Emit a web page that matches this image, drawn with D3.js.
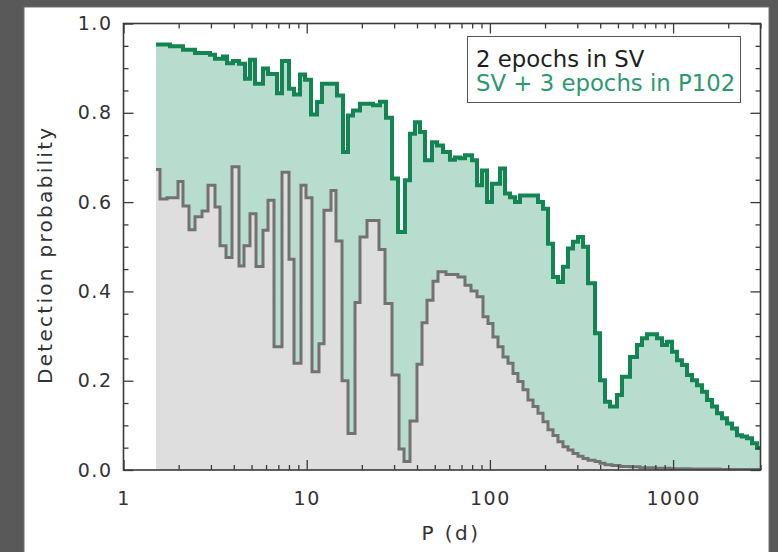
<!DOCTYPE html>
<html>
<head>
<meta charset="utf-8">
<script src="https://cdn.jsdelivr.net/npm/d3@7"></script>
<style>
html,body{margin:0;padding:0;background:#595959;}
svg{display:block;}
</style>
</head>
<body>
<svg id="chart" width="778" height="552"></svg>
<script>
// ---------- DATA ----------
// Orbital period bins (d) where each step starts, and detection probability in that step
const svPeriods = [1.504,1.582,1.728,1.984,2.112,2.278,2.457,2.683,2.893,3.158,3.364,3.627,3.911,4.271,4.548,4.904,5.289,5.775,6.149,6.631,7.332,8.007,8.526,9.308,9.912,10.69,11.67,12.43,13.57,14.45,15.59,16.81,18.35,19.54,21.34,24.81,26.76,29.22,31.91,33.98,36.64,40.00,42.60,45.36,48.92,52.09,57.59,66.95,73.11,78.86,85.04,91.69,97.64,103.9,110.7,117.9,125.6,133.7,142.2,151.6,161.4,171.9,183.0,194.9,207.6,221.0,235.3,250.6,266.9,284.2,302.7,322.3,343.2,374.7,399.1,425.0,464.0,513.1,582.0,659.7,796.5,962.0,1237,1803];
const svValues  = [0.673,0.607,0.610,0.646,0.591,0.538,0.567,0.580,0.638,0.589,0.502,0.476,0.679,0.457,0.502,0.574,0.456,0.537,0.604,0.276,0.667,0.472,0.239,0.638,0.610,0.220,0.283,0.582,0.626,0.513,0.200,0.082,0.375,0.522,0.559,0.494,0.373,0.213,0.047,0.019,0.110,0.237,0.330,0.380,0.423,0.444,0.438,0.432,0.414,0.401,0.388,0.343,0.328,0.298,0.276,0.253,0.239,0.216,0.198,0.180,0.157,0.142,0.127,0.108,0.090,0.077,0.063,0.052,0.045,0.037,0.031,0.026,0.022,0.019,0.015,0.012,0.010,0.008,0.007,0.005,0.004,0.003,0.002,0.001];

const p102Periods = [1.504,1.794,2.112,2.457,2.967,3.158,3.493,3.673,3.960,4.271,4.605,4.904,5.222,5.775,6.149,6.886,7.332,8.007,8.526,9.192,9.789,10.56,11.39,12.12,14.63,15.78,16.81,17.89,19.54,23.01,25.13,27.10,29.22,31.51,34.41,36.64,39.01,41.54,44.23,48.31,51.44,55.46,60.54,64.47,68.66,73.11,79.86,85.04,90.55,96.42,102.7,113.5,120.9,128.7,137.1,146.0,183.0,194.9,207.6,221.0,235.3,250.6,266.9,284.2,302.7,322.3,343.2,374.7,399.1,425.0,452.5,494.0,526.1,582.0,635.3,676.5,720.4,816.8,869.7,926.3,986.3,1050,1118,1191,1268,1351,1438,1531,1631,1737,1849,1969,2097,2233,2378,2532,2696,2871];
const p102Values  = [0.953,0.949,0.941,0.934,0.930,0.921,0.926,0.911,0.916,0.910,0.876,0.919,0.865,0.899,0.887,0.844,0.916,0.854,0.841,0.886,0.874,0.796,0.824,0.865,0.839,0.712,0.794,0.805,0.820,0.817,0.825,0.789,0.653,0.533,0.649,0.753,0.779,0.757,0.694,0.734,0.727,0.712,0.695,0.700,0.698,0.705,0.694,0.638,0.671,0.600,0.641,0.675,0.619,0.611,0.600,0.615,0.600,0.585,0.507,0.432,0.421,0.455,0.496,0.511,0.522,0.500,0.418,0.306,0.201,0.153,0.142,0.168,0.209,0.253,0.280,0.295,0.304,0.295,0.280,0.287,0.265,0.246,0.235,0.213,0.201,0.190,0.175,0.157,0.142,0.127,0.116,0.104,0.093,0.078,0.075,0.071,0.060,0.049];

const periodEnd = 3000;
const xDomain = [1, 3000];
const xMajorTicks = [1, 10, 100, 1000];
const xMinorTicks = [2,3,4,5,6,7,8,9,20,30,40,50,60,70,80,90,200,300,400,500,600,700,800,900,2000,3000];
const yMajorTicks = [0, 0.2, 0.4, 0.6, 0.8, 1.0];
const yMinorTicks = [0.05,0.1,0.15,0.25,0.3,0.35,0.45,0.5,0.55,0.65,0.7,0.75,0.85,0.9,0.95];
const legendLabels = ["2 epochs in SV", "SV + 3 epochs in P102"];
const xTitle = "P (d)";
const yTitle = "Detection probability";

// ---------- CHART ----------
const svg = d3.select("#chart");
const W = 778, H = 552;
const plot = {left: 123.5, right: 760.5, top: 23.5, bottom: 470};
const FONT = "DejaVu Sans, sans-serif";

svg.append("rect").attr("x",0).attr("y",0).attr("width",W).attr("height",H).attr("fill","#595959");
svg.append("rect").attr("x",24).attr("y",7).attr("width",745).attr("height",548)
   .attr("fill","#ffffff").attr("stroke","#707070").attr("stroke-width",1);

const x = d3.scaleLog().domain(xDomain).range([plot.left, plot.right]);
const y = d3.scaleLinear().domain([0,1]).range([plot.bottom, plot.top]);

svg.append("clipPath").attr("id","clip").append("rect")
  .attr("x",plot.left).attr("y",plot.top).attr("width",plot.right-plot.left).attr("height",plot.bottom-plot.top);

function toPts(periods, values){
  const pts = periods.map((p,i)=>[p, values[i]]);
  pts.push([periodEnd, values[values.length-1]]);
  return pts;
}
const svPts = toPts(svPeriods, svValues);
const p102Pts = toPts(p102Periods, p102Values);

const area = d3.area().curve(d3.curveStepAfter).x(d=>x(d[0])).y0(y(0)).y1(d=>y(d[1]));
const line = d3.line().curve(d3.curveStepAfter).x(d=>x(d[0])).y(d=>y(d[1]));

const g = svg.append("g").attr("clip-path","url(#clip)");
g.append("path").datum(p102Pts).attr("d",area).attr("fill","#b8dccd");
g.append("path").datum(svPts).attr("d",area).attr("fill","#dedede");
g.append("path").datum(p102Pts).attr("d",line).attr("fill","none")
  .attr("stroke","#138553").attr("stroke-width",4).attr("stroke-linejoin","miter");
g.append("path").datum(svPts).attr("d",line).attr("fill","none")
  .attr("stroke","#727272").attr("stroke-width",3).attr("stroke-linejoin","miter");

// axes
const axisColor = "#3a3a3a";
function styleAxis(sel){
  sel.select(".domain").remove();
  sel.selectAll(".tick line").attr("stroke",axisColor).attr("stroke-width",1.3);
  sel.selectAll(".tick text").attr("fill","#333").attr("font-family",FONT)
     .attr("font-size","19px").attr("letter-spacing","1.5px");
}
// bottom
svg.append("g").attr("transform",`translate(0,${plot.bottom})`)
  .call(d3.axisBottom(x).tickValues(xMajorTicks).tickSize(-10).tickPadding(22).tickFormat(d3.format("d")))
  .call(styleAxis);
svg.append("g").attr("transform",`translate(0,${plot.bottom})`)
  .call(d3.axisBottom(x).tickValues(xMinorTicks).tickSize(-5).tickFormat(""))
  .call(styleAxis);
// top
svg.append("g").attr("transform",`translate(0,${plot.top})`)
  .call(d3.axisTop(x).tickValues(xMajorTicks).tickSize(-10).tickFormat(""))
  .call(styleAxis);
svg.append("g").attr("transform",`translate(0,${plot.top})`)
  .call(d3.axisTop(x).tickValues(xMinorTicks).tickSize(-5).tickFormat(""))
  .call(styleAxis);
// left
svg.append("g").attr("transform",`translate(${plot.left},0)`)
  .call(d3.axisLeft(y).tickValues(yMajorTicks).tickSize(-10).tickPadding(11).tickFormat(d3.format(".1f")))
  .call(styleAxis);
svg.append("g").attr("transform",`translate(${plot.left},0)`)
  .call(d3.axisLeft(y).tickValues(yMinorTicks).tickSize(-5).tickFormat(""))
  .call(styleAxis);
// right
svg.append("g").attr("transform",`translate(${plot.right},0)`)
  .call(d3.axisRight(y).tickValues(yMajorTicks).tickSize(-10).tickFormat(""))
  .call(styleAxis);
svg.append("g").attr("transform",`translate(${plot.right},0)`)
  .call(d3.axisRight(y).tickValues(yMinorTicks).tickSize(-5).tickFormat(""))
  .call(styleAxis);

// frame
svg.append("rect").attr("x",plot.left).attr("y",plot.top)
  .attr("width",plot.right-plot.left).attr("height",plot.bottom-plot.top)
  .attr("fill","none").attr("stroke",axisColor).attr("stroke-width",1.6);

// titles
svg.append("text").attr("x",451).attr("y",540).attr("text-anchor","middle")
  .attr("font-family",FONT).attr("font-size","20px").attr("letter-spacing","2.5px")
  .attr("fill","#333").text(xTitle);
svg.append("text").attr("transform",`translate(52,${(plot.top+plot.bottom)/2 + 8}) rotate(-90)`)
  .attr("text-anchor","middle")
  .attr("font-family",FONT).attr("font-size","20px").attr("letter-spacing","2.3px")
  .attr("fill","#333").text(yTitle);

// legend
const lg = svg.append("g");
lg.append("rect").attr("x",467.5).attr("y",36.5).attr("width",273).attr("height",66)
  .attr("fill","#ffffff").attr("stroke","#555").attr("stroke-width",1);
const legendColors = ["#1e1e1e", "#2a9a6e"];
legendLabels.forEach((t,i)=>{
  lg.append("text").attr("x",476).attr("y",67 + i*23.5)
    .attr("font-family",FONT).attr("font-size","22.8px")
    .attr("fill",legendColors[i]).text(t);
});
</script>
</body>
</html>
